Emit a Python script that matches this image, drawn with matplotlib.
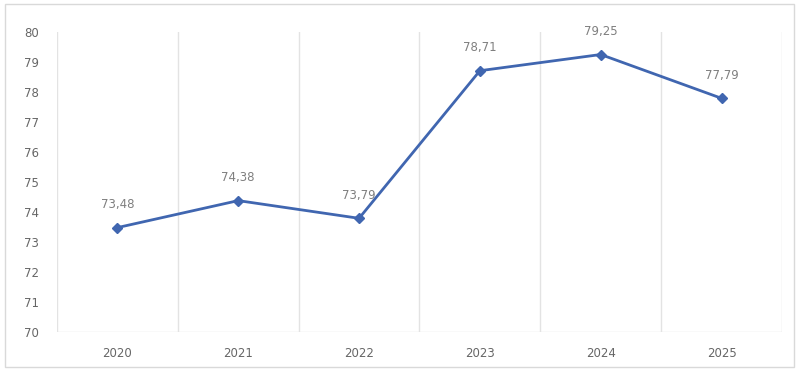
import matplotlib
matplotlib.use("Agg")
import matplotlib.pyplot as plt
from matplotlib.patches import Rectangle

years = ["2020", "2021", "2022", "2023", "2024", "2025"]
values = [73.48, 74.38, 73.79, 78.71, 79.25, 77.79]
labels = ["73,48", "74,38", "73,79", "78,71", "79,25", "77,79"]
yticks = [70, 71, 72, 73, 74, 75, 76, 77, 78, 79, 80]

fig = plt.figure(figsize=(7.99, 3.71), dpi=100)
fig.patch.set_facecolor("white")
fig.add_artist(Rectangle((0.006, 0.012), 0.988, 0.978, transform=fig.transFigure,
                         fill=False, edgecolor="#d9d9d9", linewidth=1))
ax = fig.add_axes([0.0713, 0.1051, 0.9074, 0.8086])

x = list(range(len(years)))
ax.plot(x, values, color="#4066b0", linewidth=2.0, marker="D", markersize=5.5,
        markerfacecolor="#4066b0", markeredgecolor="#4066b0", zorder=3)
for xi, v, lab in zip(x, values, labels):
    ax.annotate(lab, (xi, v), xytext=(0, 12), textcoords="offset points",
                ha="center", va="bottom", fontsize=8.5, color="#7f7f7f")

ax.set_xlim(-0.5, len(years) - 0.5)
ax.set_ylim(70, 80)
ax.set_yticks(yticks)
ax.set_yticklabels([str(t) for t in yticks])
ax.set_xticks(x)
ax.set_xticklabels(years)
for b in range(len(years) + 1):
    ax.axvline(b - 0.5, color="#e3e3e3", linewidth=1, zorder=0)
for s in ax.spines.values():
    s.set_visible(False)
ax.axhline(70, color="#e3e3e3", linewidth=1, zorder=0)
ax.tick_params(axis="both", length=0, labelsize=8.5, labelcolor="#666666")
ax.tick_params(axis="x", pad=11)
ax.tick_params(axis="y", pad=13)

fig.savefig("out.png", dpi=100, facecolor="white")
